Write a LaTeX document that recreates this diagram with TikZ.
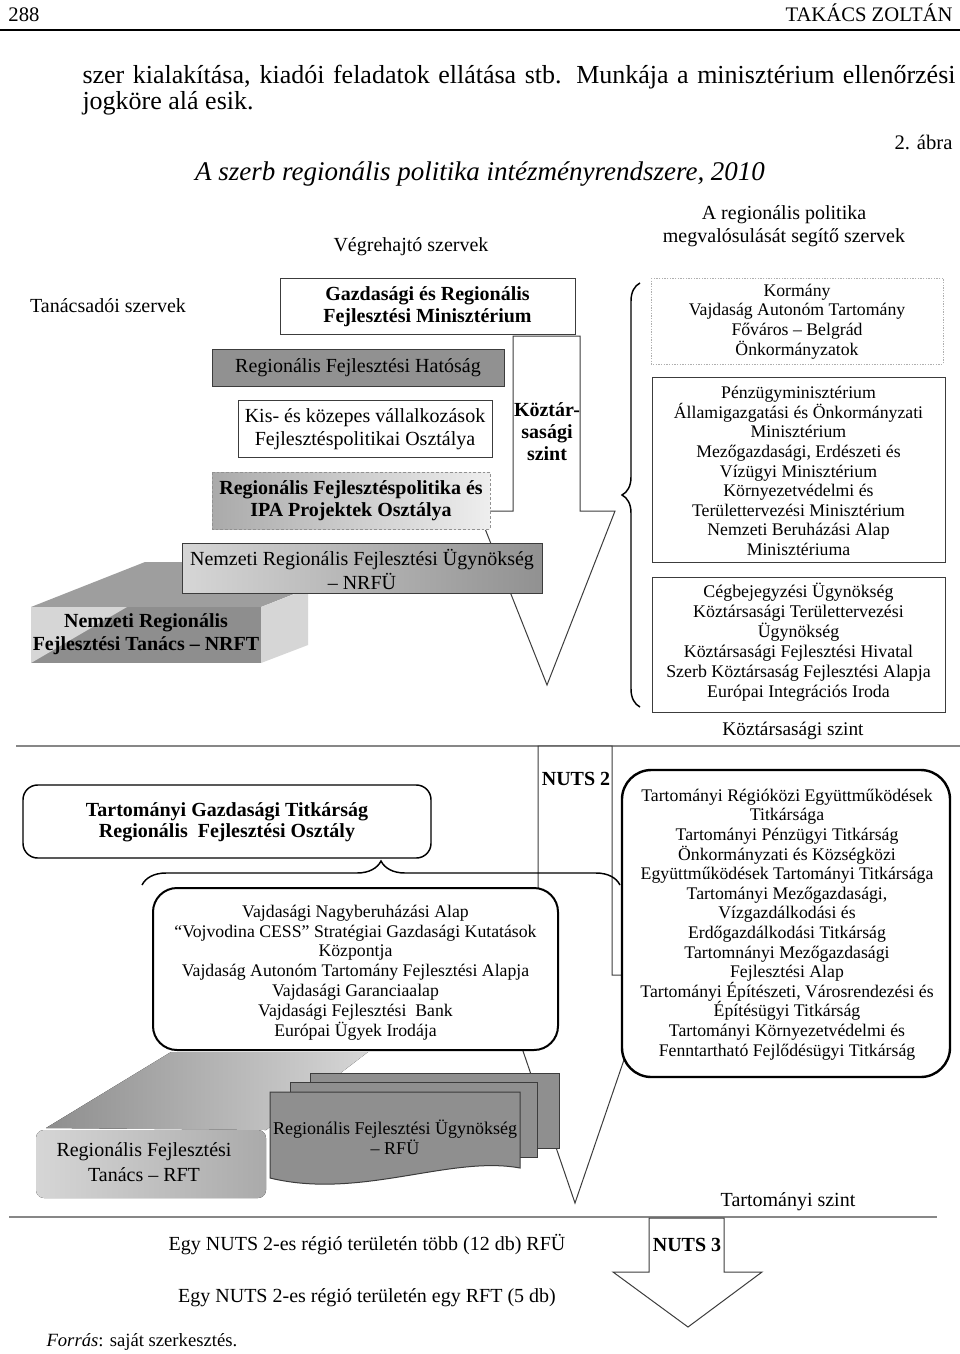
\documentclass[tikz,border=0pt]{standalone}
\usepackage{fontspec}
\setmainfont{Liberation Serif}
\usetikzlibrary{decorations.pathreplacing}

\definecolor{lineGray}{RGB}{135,135,135}
\definecolor{edgeGray}{RGB}{60,60,60}
\definecolor{dotGray}{RGB}{175,175,175}
\definecolor{shadeDark}{RGB}{145,145,145}
\definecolor{shadeMid}{RGB}{170,170,170}
\definecolor{shadeLight}{RGB}{238,238,238}
\definecolor{slabTop}{RGB}{158,158,158}
\definecolor{slabFront}{RGB}{142,142,142}
\definecolor{slabLight}{RGB}{214,214,214}
\definecolor{docGray}{RGB}{143,143,143}

\newcommand{\txthead}{\fontsize{15.5}{18}\selectfont}
\newcommand{\txtbody}{\fontsize{19.5}{19.5}\selectfont}
\newcommand{\txttitle}{\fontsize{20.25}{24}\selectfont}
\newcommand{\txtmain}{\fontsize{15}{17.25}\selectfont}
\newcommand{\txtsmall}{\fontsize{13.3}{14.7}\selectfont}

\tikzset{every picture/.style={line width=0.75pt}}

\begin{document}
\begin{tikzpicture}[x=0.75pt,y=0.75pt,yscale=-1,xscale=1]
\path [use as bounding box] (0,0) rectangle (960,1354);
\fill [white] (0,0) rectangle (960,1354);

% Text Node
\draw (8,21) node (pagenum) [anchor=base west][inner sep=0pt] {\txthead 288};
% Text Node
\draw (953,21) node (author) [anchor=base east][inner sep=0pt] {\txthead TAKÁCS ZOLTÁN};
%Straight Lines
\draw [line width=1.5pt] (0,30) -- (960,30) ;

% Text Node
\draw (82,83) node (bodyone) [anchor=base west][inner sep=0pt] {\txtbody\makebox[654.75pt][s]{szer kialakítása, kiadói feladatok ellátása stb. Munkája a minisztérium ellenőrzési}};
% Text Node
\draw (82,109) node (bodytwo) [anchor=base west][inner sep=0pt] {\txtbody jogköre alá esik.};
% Text Node
\draw (953,149) node (figno) [anchor=base east][inner sep=0pt] {\txthead 2. ábra};
% Text Node
\draw (480,180) node (title) [anchor=base][inner sep=0pt] {\txttitle\itshape A szerb regionális politika intézményrendszere, 2010};

% Text Node
\draw (784,226) node (helperhead) [inner sep=0.75pt][align=center][font=\txtmain] {A regionális politika\\megvalósulását segítő szervek};
% Text Node
\draw (411,247) node (exechead) [inner sep=0.75pt][font=\txtmain] {Végrehajtó szervek};
% Text Node
\draw (108,306) node (advhead) [inner sep=0.75pt][font=\txtmain] {Tanácsadói szervek};

%Shape: Arrow (national level)
\draw [draw=edgeGray, fill=white] (513,336) -- (580,336) -- (580,511) -- (615,511) -- (547,685) -- (478,511) -- (513,511) -- cycle ;

%Shape: Rectangle
\draw [draw=edgeGray, fill=white] (280,278) rectangle (575,334) ;
% Text Node
\draw (427.5,307) node (grfm) [inner sep=0.75pt][align=center][font=\fontsize{15}{16.5}\selectfont\bfseries] {Gazdasági és Regionális\\Fejlesztési Minisztérium};

%Shape: Rectangle
\draw [draw=edgeGray, left color=shadeDark, middle color=shadeLight, right color=shadeDark] (212,349) rectangle (504,386) ;
% Text Node
\draw (358,368) node (rfh) [inner sep=0.75pt][font=\txtmain] {Regionális Fejlesztési Hatóság};

%Shape: Rectangle
\draw [draw=edgeGray, fill=white] (238,400) rectangle (492,457) ;
% Text Node
\draw (365,429.5) node (kkv) [inner sep=0.75pt][align=center][font=\txtmain] {Kis- és közepes vállalkozások\\Fejlesztéspolitikai Osztálya};

%Shape: Rectangle
\draw [draw=shadeDark, dash pattern=on 2pt off 1.5pt, left color=shadeMid, right color=shadeLight] (212,472) rectangle (490,529) ;
% Text Node
\draw (351,501) node (ipa) [inner sep=0.75pt][align=center][font=\fontsize{15}{16.5}\selectfont\bfseries] {Regionális Fejlesztéspolitika és\\IPA Projektek Osztálya};

%Shape: Slab (NRFT)
\fill [slabTop] (31,607) -- (145,562) -- (375,562) -- (261,607) -- cycle ;
\fill [slabLight] (261,607) -- (308,589) -- (308,645) -- (261,663) -- cycle ;
\fill [slabFront] (31,607) rectangle (261,663) ;
\fill [slabLight] (31,607) -- (127,607) -- (31,663) -- cycle ;
% Text Node
\draw (146,634) node (nrft) [inner sep=0.75pt][align=center][font=\fontsize{15}{17}\selectfont\bfseries] {Nemzeti Regionális\\Fejlesztési Tanács – NRFT};

%Shape: Rectangle
\draw [draw=edgeGray, left color=slabLight, right color=shadeDark] (182,543) rectangle (542,593) ;
% Text Node
\draw (362,569) node (nrfu) [inner sep=0.75pt][align=center][font=\fontsize{15}{18}\selectfont] {Nemzeti Regionális Fejlesztési Ügynökség\\– NRFÜ};

% Text Node
\draw (547,432) node (ktszint) [inner sep=0.75pt][align=center][font=\fontsize{15}{16.5}\selectfont\bfseries] {Köztár-\\sasági\\szint};

%Shape: Brace
\draw [line width=1.1pt, decorate, decoration={brace, amplitude=13.5pt}] (640,707) -- (640,283) ;

%Shape: Rectangle
\draw [draw=dotGray, dash pattern=on 1pt off 1pt] (651,278) rectangle (943,364) ;
% Text Node
\draw (797,321.5) node (kormany) [inner sep=0.75pt][align=center][font=\txtsmall] {Kormány\\Vajdaság Autonóm Tartomány\\Főváros – Belgrád\\Önkormányzatok};

%Shape: Rectangle
\draw [draw=edgeGray] (652,377) rectangle (945,562) ;
% Text Node
\draw (798.5,471) node (minist) [inner sep=0.75pt][align=center][font=\txtsmall] {Pénzügyminisztérium\\Államigazgatási és Önkormányzati\\Minisztérium\\Mezőgazdasági, Erdészeti és\\Vízügyi Minisztérium\\Környezetvédelmi és\\Területtervezési Minisztérium\\Nemzeti Beruházási Alap\\Minisztériuma};

%Shape: Rectangle
\draw [draw=edgeGray] (652,577) rectangle (945,712) ;
% Text Node
\draw (798.5,642) node (ugynok) [inner sep=0.75pt][align=center][font=\fontsize{13.4}{15}\selectfont] {Cégbejegyzési Ügynökség\\Köztársasági Területtervezési\\Ügynökség\\Köztársasági Fejlesztési Hivatal\\Szerb Köztársaság Fejlesztési Alapja\\Európai Integrációs Iroda};

% Text Node
\draw (793,731) node (ktszintlab) [inner sep=0.75pt][font=\fontsize{14.5}{17}\selectfont] {Köztársasági szint};

%Straight Lines
\draw [draw=lineGray, line width=1.1pt] (16,746) -- (960,746) ;

%Shape: Arrow (NUTS 2)
\draw [draw=edgeGray, fill=white] (538,746) -- (612,746) -- (612,975) -- (653,975) -- (575,1203) -- (497,975) -- (538,975) -- cycle ;
% Text Node
\draw (576,779) node (nutstwo) [inner sep=0.75pt][font=\fontsize{15}{17}\selectfont\bfseries] {NUTS 2};

%Rounded Rect
\draw [line width=1.1pt, rounded corners=11pt, fill=white] (23,785) rectangle (431,858) ;
% Text Node
\draw (227,822) node (tgt) [inner sep=0.75pt][align=center][font=\fontsize{15}{15.75}\selectfont\bfseries] {Tartományi Gazdasági Titkárság\\Regionális\ \ Fejlesztési Osztály};

%Shape: Brace
\draw [line width=1.1pt, decorate, decoration={brace, amplitude=18pt}] (142,885) -- (620,885) ;

%Rounded Rect
\draw [line width=1.5pt, rounded corners=18pt, fill=white] (153,888) rectangle (558,1050) ;
% Text Node
\draw (355.5,972.5) node (vajd) [inner sep=0.75pt][align=center][font=\fontsize{13.3}{14.85}\selectfont] {Vajdasági Nagyberuházási Alap\\“Vojvodina CESS” Stratégiai Gazdasági Kutatások\\Központja\\Vajdaság Autonóm Tartomány Fejlesztési Alapja\\Vajdasági Garanciaalap\\Vajdasági Fejlesztési\ \ Bank\\Európai Ügyek Irodája};

%Rounded Rect
\draw [line width=1.8pt, rounded corners=22pt, fill=white] (622,770) rectangle (950,1077) ;
% Text Node
\draw (787,924.5) node (titkar) [inner sep=0.75pt][align=center][font=\txtsmall] {Tartományi Régióközi Együttműködések\\Titkársága\\Tartományi Pénzügyi Titkárság\\Önkormányzati és Községközi\\Együttműködések Tartományi Titkársága\\Tartományi Mezőgazdasági,\\Vízgazdálkodási és\\Erdőgazdálkodási Titkárság\\Tartomnányi Mezőgazdasági\\Fejlesztési Alap\\Tartományi Építészeti, Városrendezési és\\Építésügyi Titkárság\\Tartományi Környezetvédelmi és\\Fenntartható Fejlődésügyi Titkárság};

%Shape: Slab (RFT)
\fill [left color=slabFront, right color=slabLight] (46,1128) -- (171,1052) -- (368,1052) -- (266,1130) -- cycle ;
\fill [rounded corners=6pt, left color=slabLight, right color=shadeMid] (36,1130) rectangle (266,1198) ;
% Text Node
\draw (144,1162) node (rft) [inner sep=0.75pt][align=center][font=\fontsize{15}{18.75}\selectfont] {Regionális Fejlesztési\\Tanács – RFT};

%Shape: Documents (RFU)
\draw [draw=edgeGray, fill=docGray] (310,1073) rectangle (559,1148) ;
\draw [draw=edgeGray, fill=docGray] (290,1082) rectangle (537,1157) ;
\draw [draw=edgeGray, fill=docGray] (270,1092) -- (520,1092) -- (520,1168) .. controls (450,1155) and (360,1200) .. (270,1178) -- cycle ;
% Text Node
\draw (395,1137) node (rfu) [inner sep=0.75pt][align=center][font=\fontsize{13.5}{15}\selectfont] {Regionális Fejlesztési Ügynökség\\– RFÜ};

% Text Node
\draw (788,1202) node (tszint) [inner sep=0.75pt][font=\txtmain] {Tartományi szint};
%Straight Lines
\draw [draw=lineGray, line width=1.1pt] (9,1217) -- (937,1217) ;

%Shape: Arrow (NUTS 3)
\draw [draw=edgeGray, fill=white] (649,1218) -- (724,1218) -- (724,1272) -- (762,1272) -- (688,1327) -- (613,1272) -- (649,1272) -- cycle ;
% Text Node
\draw (687,1245) node (nutsthree) [inner sep=0.75pt][font=\fontsize{15}{17}\selectfont\bfseries] {NUTS 3};

% Text Node
\draw (367,1245) node (noterfu) [inner sep=0.75pt][font=\txtmain] {Egy NUTS 2-es régió területén több (12 db) RFÜ};
% Text Node
\draw (367,1298) node (noterft) [inner sep=0.75pt][font=\txtmain] {Egy NUTS 2-es régió területén egy RFT (5 db)};
% Text Node
\draw (46,1342) node (source) [anchor=west][inner sep=0pt][font=\fontsize{14}{16}\selectfont] {\textit{Forrás}: saját szerkesztés.};
\end{tikzpicture}
\end{document}
